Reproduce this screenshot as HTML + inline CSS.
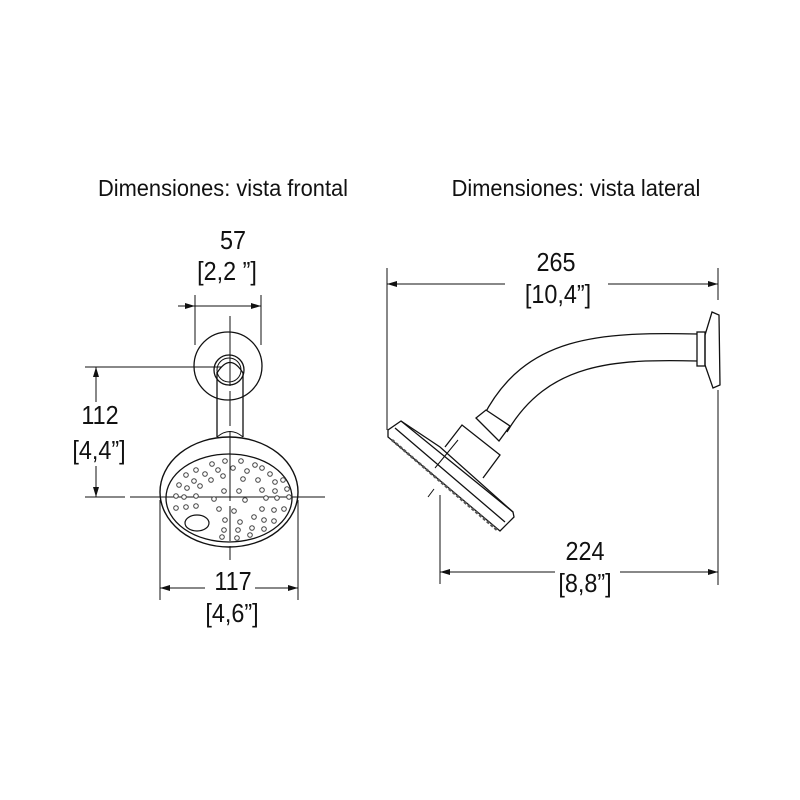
<!DOCTYPE html>
<html><head><meta charset="utf-8"><style>
html,body{margin:0;padding:0;background:#fff;}
svg{display:block}
text{font-family:"Liberation Sans",sans-serif;fill:#111;}
</style></head><body>
<svg width="800" height="800" viewBox="0 0 800 800">
<defs>
<marker id="a" viewBox="0 0 10 6" refX="10" refY="3" markerWidth="10" markerHeight="6" orient="auto-start-reverse" markerUnits="userSpaceOnUse">
<path d="M0,0 L10,3 L0,6 z" fill="#111"/></marker>
</defs>
<g text-anchor="middle">
<text x="223" y="196" font-size="23" transform="translate(223,0) scale(0.95,1) translate(-223,0)">Dimensiones: vista frontal</text>
<text x="576" y="196" font-size="23" transform="translate(576,0) scale(0.95,1) translate(-576,0)">Dimensiones: vista lateral</text>
<g font-size="26">
<text x="233" y="249" transform="translate(233,0) scale(0.9,1) translate(-233,0)">57</text>
<text x="227" y="280" transform="translate(227,0) scale(0.9,1) translate(-227,0)">[2,2 ”]</text>
<text x="100" y="424" transform="translate(100,0) scale(0.9,1) translate(-100,0)">112</text>
<text x="99" y="459" transform="translate(99,0) scale(0.9,1) translate(-99,0)">[4,4”]</text>
<text x="233" y="590" transform="translate(233,0) scale(0.9,1) translate(-233,0)">117</text>
<text x="232" y="622" transform="translate(232,0) scale(0.9,1) translate(-232,0)">[4,6”]</text>
<text x="556" y="271" transform="translate(556,0) scale(0.9,1) translate(-556,0)">265</text>
<text x="558" y="303" transform="translate(558,0) scale(0.9,1) translate(-558,0)">[10,4”]</text>
<text x="585" y="560" transform="translate(585,0) scale(0.9,1) translate(-585,0)">224</text>
<text x="585" y="592" transform="translate(585,0) scale(0.9,1) translate(-585,0)">[8,8”]</text>
</g>
</g>
<g stroke="#111" stroke-width="1" fill="none">
<!-- front dims -->
<line x1="195" y1="295" x2="195" y2="345"/>
<line x1="261" y1="295" x2="261" y2="345"/>
<line x1="178" y1="306" x2="261" y2="306" marker-end="url(#a)"/>
<line x1="178" y1="306" x2="195" y2="306" marker-end="url(#a)"/>
<line x1="85" y1="367" x2="222" y2="367"/>
<line x1="96" y1="402" x2="96" y2="367" marker-end="url(#a)"/>
<line x1="96" y1="466" x2="96" y2="497" marker-end="url(#a)"/>
<line x1="85" y1="497" x2="125" y2="497"/>
<line x1="130" y1="497" x2="325" y2="497"/>
<line x1="230" y1="316" x2="230" y2="560" stroke-dasharray="70,5,35,5"/>
<line x1="160" y1="500" x2="160" y2="600"/>
<line x1="298" y1="500" x2="298" y2="600"/>
<line x1="160" y1="588" x2="205" y2="588" marker-start="url(#a)"/>
<line x1="255" y1="588" x2="298" y2="588" marker-end="url(#a)"/>
<!-- front drawing -->
<circle cx="228" cy="366" r="34" stroke-width="1.3"/>
<circle cx="229" cy="370" r="15" stroke-width="1.3"/>
<circle cx="229" cy="370" r="12"/>
<path d="M217,372 L217,437 M243,372 L243,437 M217,373 Q230,352 243,373" stroke-width="1.3"/>
<path d="M217,437 Q230,426 243,437"/>
<ellipse cx="229" cy="492" rx="69" ry="55" stroke-width="1.4"/>
<ellipse cx="229" cy="498" rx="63" ry="44" stroke-width="1.3"/>
<ellipse cx="197" cy="523" rx="12" ry="8" stroke-width="1.2"/>
</g>
<g fill="#fff" stroke="#444" stroke-width="1">
<circle cx="212" cy="464" r="2.3"/><circle cx="225" cy="461" r="2.3"/><circle cx="241" cy="461" r="2.3"/><circle cx="255" cy="465" r="2.3"/>
<circle cx="196" cy="470" r="2.3"/><circle cx="205" cy="474" r="2.3"/><circle cx="218" cy="470" r="2.3"/><circle cx="233" cy="468" r="2.3"/><circle cx="247" cy="471" r="2.3"/><circle cx="262" cy="468" r="2.3"/><circle cx="270" cy="474" r="2.3"/>
<circle cx="186" cy="475" r="2.3"/><circle cx="194" cy="481" r="2.3"/><circle cx="211" cy="480" r="2.3"/><circle cx="223" cy="476" r="2.3"/><circle cx="243" cy="479" r="2.3"/><circle cx="258" cy="480" r="2.3"/><circle cx="275" cy="482" r="2.3"/><circle cx="283" cy="480" r="2.3"/>
<circle cx="179" cy="485" r="2.3"/><circle cx="187" cy="488" r="2.3"/><circle cx="200" cy="486" r="2.3"/><circle cx="224" cy="491" r="2.3"/><circle cx="239" cy="491" r="2.3"/><circle cx="262" cy="490" r="2.3"/><circle cx="275" cy="491" r="2.3"/><circle cx="287" cy="489" r="2.3"/>
<circle cx="176" cy="496" r="2.3"/><circle cx="184" cy="497" r="2.3"/><circle cx="196" cy="496" r="2.3"/><circle cx="214" cy="499" r="2.3"/><circle cx="245" cy="500" r="2.3"/><circle cx="266" cy="498" r="2.3"/><circle cx="277" cy="498" r="2.3"/><circle cx="289" cy="497" r="2.3"/>
<circle cx="176" cy="508" r="2.3"/><circle cx="186" cy="507" r="2.3"/><circle cx="196" cy="506" r="2.3"/><circle cx="219" cy="509" r="2.3"/><circle cx="234" cy="511" r="2.3"/><circle cx="262" cy="509" r="2.3"/><circle cx="274" cy="510" r="2.3"/><circle cx="284" cy="509" r="2.3"/>
<circle cx="225" cy="520" r="2.3"/><circle cx="240" cy="522" r="2.3"/><circle cx="254" cy="517" r="2.3"/><circle cx="264" cy="520" r="2.3"/><circle cx="274" cy="521" r="2.3"/>
<circle cx="224" cy="530" r="2.3"/><circle cx="238" cy="530" r="2.3"/><circle cx="252" cy="528" r="2.3"/><circle cx="264" cy="529" r="2.3"/>
<circle cx="222" cy="537" r="2.3"/><circle cx="237" cy="538" r="2.3"/><circle cx="250" cy="535" r="2.3"/>
</g>
<g stroke="#111" stroke-width="1" fill="none">
<!-- side dims -->
<line x1="387" y1="268" x2="387" y2="430"/>
<line x1="718" y1="268" x2="718" y2="300"/>
<line x1="718" y1="390" x2="718" y2="585"/>
<line x1="387" y1="284" x2="505" y2="284" marker-start="url(#a)"/>
<line x1="608" y1="284" x2="718" y2="284" marker-end="url(#a)"/>
<line x1="440" y1="495" x2="440" y2="584"/>
<line x1="440" y1="572" x2="555" y2="572" marker-start="url(#a)"/>
<line x1="620" y1="572" x2="718" y2="572" marker-end="url(#a)"/>
<!-- side drawing -->
<g stroke-width="1.3">
<path d="M712,312 L719,315 L720,385 L713,388 L705,365 L705,335 Z"/>
<rect x="697" y="332" width="8" height="34"/>
<path d="M697,334 C600,332 525,335 483,417"/>
<path d="M697,361 C615,359 548,362 507,432"/>
<path d="M476,418 L486,410 L510,426 L499,441 Z" fill="#fff"/>
<path d="M445,447 L462,425 L500,455 L483,478"/>
<path d="M401,421 L388,430 L388,437 L500,531 L514,517 L513,512 Z" fill="#fff"/>
<path d="M401,421 L440,447 L513,512 M395,428 L505,522"/>
</g>
<path d="M392,440 L497,530" stroke-dasharray="3,2" stroke-width="2.5" stroke="#555"/>
<line x1="458" y1="440" x2="435" y2="468" />
<line x1="434" y1="489" x2="428" y2="497"/>
</g>
</svg>
</body></html>
